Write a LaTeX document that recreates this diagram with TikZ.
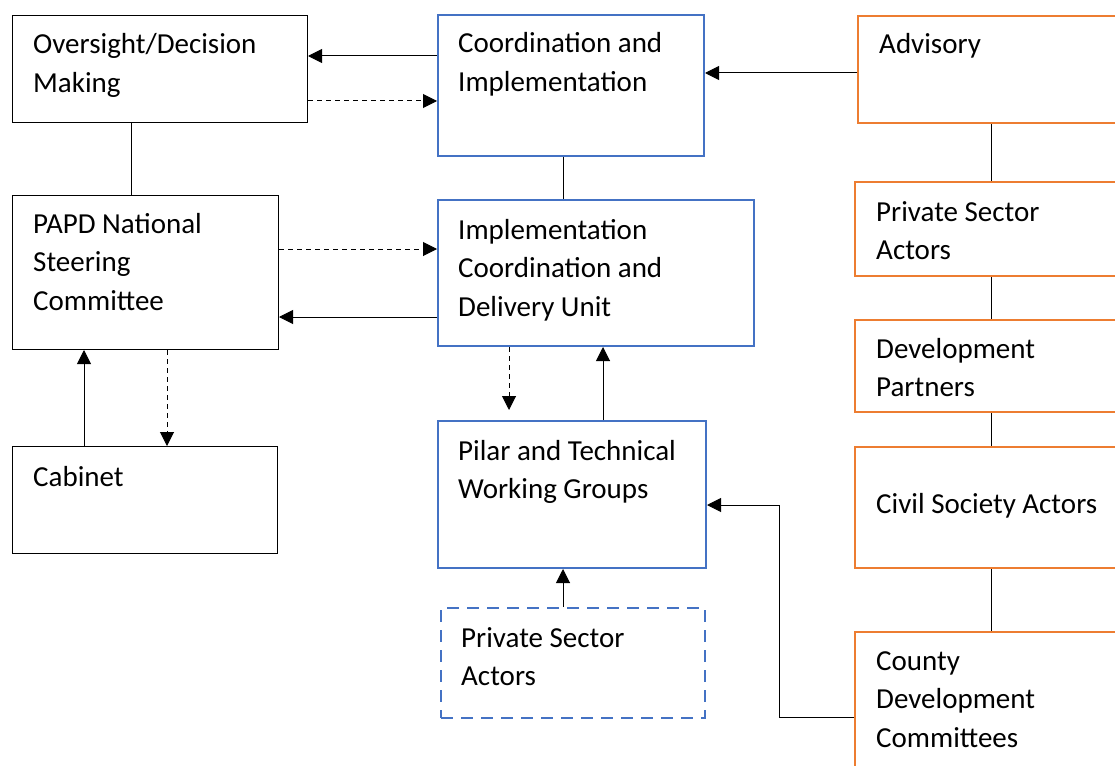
\documentclass[tikz,border=0pt]{standalone}
\usepackage{fontspec}
\setmainfont{Carlito}
\usetikzlibrary{arrows.meta}
\definecolor{boxblue}{RGB}{68,114,196}
\definecolor{boxorange}{RGB}{237,125,49}
\tikzset{
	box/.style={draw,rectangle,anchor=north west,inner sep=0pt,line width=1pt},
	bluebox/.style={box,draw=boxblue,line width=2pt},
	orangebox/.style={box,draw=boxorange,line width=2pt},
	txt/.style={anchor=base west,align=left,inner sep=0pt,font=\fontsize{29}{38.5}\selectfont},
	arr/.style={-{Triangle[length=14pt,width=14pt]},line width=1pt},
	darr/.style={arr,dash pattern=on 5pt off 4pt},
}
\begin{document}
\begin{tikzpicture}[x=1pt,y=-1pt]
		\useasboundingbox (0,0) rectangle (1115,765);

		\node[box,minimum width=295,minimum height=107] (ovs) at (12,15) {};
		\node[bluebox,minimum width=266,minimum height=141] (coord) at (437,14) {};
		\node[orangebox,minimum width=280,minimum height=107] (adv) at (857,15) {};
		\node[box,minimum width=266,minimum height=154] (papd) at (12,195) {};
		\node[bluebox,minimum width=316,minimum height=146] (idu) at (437,199) {};
		\node[orangebox,minimum width=280,minimum height=94] (psar) at (854,181) {};
		\node[orangebox,minimum width=280,minimum height=92] (dp) at (854,319) {};
		\node[box,minimum width=265,minimum height=107] (cab) at (12,446) {};
		\node[bluebox,minimum width=268,minimum height=147] (pilar) at (437,420) {};
		\node[orangebox,minimum width=280,minimum height=121] (csa) at (854,446) {};
		\node[bluebox,dash pattern=on 12pt off 8pt,minimum width=264,minimum height=110] (psad) at (440,607) {};
		\node[orangebox,minimum width=280,minimum height=160] (cdc) at (854,631) {};

		% base anchor sits on the last line
		\node[txt] (ovs-t) at (33,92.5) {Oversight/Decision\\Making};
		\node[txt] (coord-t) at (458,91.5) {Coordination and\\Implementation};
		\node[txt] (adv-t) at (879,54) {Advisory};
		\node[txt] (papd-t) at (33,310) {PAPD National\\Steering\\Committee};
		\node[txt] (idu-t) at (458,316) {Implementation\\Coordination and\\Delivery Unit};
		\node[txt] (psar-t) at (876,259.5) {Private Sector\\Actors};
		\node[txt] (dp-t) at (876,396.5) {Development\\Partners};
		\node[txt] (cab-t) at (33,486) {Cabinet};
		\node[txt] (pilar-t) at (458,498.5) {Pilar and Technical\\Working Groups};
		\node[txt] (csa-t) at (876,513) {Civil Society Actors};
		\node[txt] (psad-t) at (461,685.5) {Private Sector\\Actors};
		\node[txt] (cdc-t) at (876,747) {County\\Development\\Committees};

		\draw[arr] (coord.west |- 0,56) -- (ovs.east |- 0,56);
		\draw[darr] (ovs.east |- 0,101) -- (coord.west |- 0,101);
		\draw[arr] (adv.west |- 0,73) -- (coord.east |- 0,73);
		\draw[line width=1pt] (ovs.south -| 131,0) -- (papd.north -| 131,0);
		\draw[line width=1pt] (coord.south -| 563,0) -- (idu.north -| 563,0);
		\draw[darr] (papd.east |- 0,249) -- (idu.west |- 0,249);
		\draw[arr] (idu.west |- 0,317) -- (papd.east |- 0,317);
		\draw[arr] (cab.north -| 84,0) -- (papd.south -| 84,0);
		\draw[darr] (papd.south -| 167,0) -- (cab.north -| 167,0);
		\draw[darr,shorten >=10pt] (idu.south -| 509,0) -- (pilar.north -| 509,0);
		\draw[arr] (pilar.north -| 603,0) -- (idu.south -| 603,0);
		\draw[arr] (psad.north -| 563,0) -- (pilar.south -| 563,0);
		\coordinate (bend) at (779,505);
		\draw[arr] (cdc.west |- 0,717) -| (bend) -- (pilar.east |- bend);
		\draw[line width=1pt] (adv.south -| 991,0) -- (psar.north -| 991,0);
		\draw[line width=1pt] (psar.south -| 991,0) -- (dp.north -| 991,0);
		\draw[line width=1pt] (dp.south -| 991,0) -- (csa.north -| 991,0);
		\draw[line width=1pt] (csa.south -| 991,0) -- (cdc.north -| 991,0);
	\end{tikzpicture}
\end{document}
